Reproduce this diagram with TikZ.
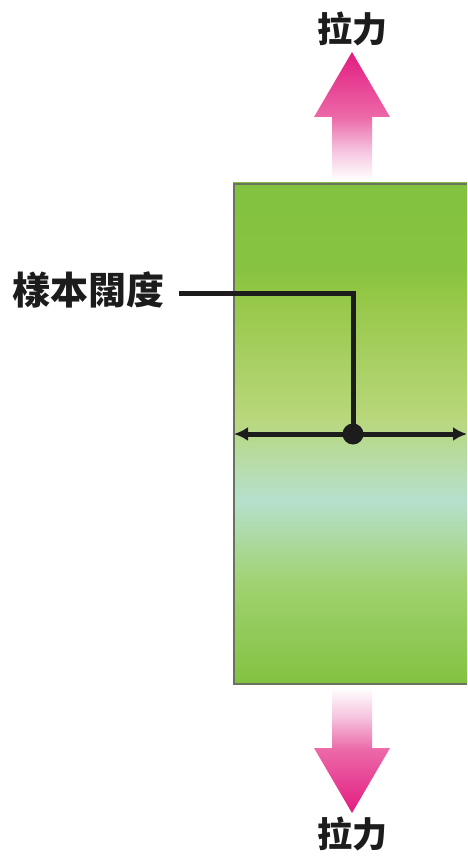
\documentclass[tikz,border=0pt]{standalone}
\usepackage{fontspec}
\newfontfamily\cjk{Noto Sans CJK TC}
\usetikzlibrary{arrows.meta}
\definecolor{gA}{RGB}{130,194,64}
\definecolor{gB}{RGB}{134,195,64}
\definecolor{gC}{RGB}{148,199,70}
\definecolor{gD}{RGB}{184,215,122}
\definecolor{gE}{RGB}{182,224,205}
\definecolor{gF}{RGB}{160,210,112}
\definecolor{pA}{RGB}{226,28,128}
\definecolor{pB}{RGB}{236,105,168}
\definecolor{pC}{RGB}{245,195,222}
\definecolor{txt}{RGB}{28,28,28}
\definecolor{edge}{RGB}{105,115,95}
\pgfdeclareverticalshading{greenbar}{100bp}{color(0bp)=(gA); color(25bp)=(gA); color(35bp)=(gF); color(43.4bp)=(gE); color(51.7bp)=(gD); color(64bp)=(gC); color(66.6bp)=(gB); color(75bp)=(gA); color(100bp)=(gA)}
\pgfdeclareverticalshading{pinkup}{100bp}{color(0bp)=(white); color(25bp)=(white); color(36.7bp)=(pC); color(49.6bp)=(pB); color(75bp)=(pA); color(100bp)=(pA)}
\pgfdeclareverticalshading{pinkdown}{100bp}{color(0bp)=(pA); color(25bp)=(pA); color(50.4bp)=(pB); color(63.3bp)=(pC); color(75bp)=(white); color(100bp)=(white)}
\tikzset{
  lbl/.style={font=\cjk\bfseries\fontsize{35}{40}\selectfont, text=txt, inner sep=0pt},
  leader/.style={line width=5pt, draw=txt},
}
\begin{document}
\begin{tikzpicture}[x=1pt,y=-1pt]
\useasboundingbox (0,0) rectangle (467,858);
% specimen bar
\fill[shading=greenbar] (233,183) rectangle (467,684);
\draw[edge, line width=2.5pt] (467,184) -- (234,184) -- (234,684) -- (467,684);
% top arrow
\shade[shading=pinkup] (352,52) -- (390,117) -- (372,117) -- (372,180) -- (332,180) -- (332,117) -- (314,117) -- cycle;
% bottom arrow
\shade[shading=pinkdown] (352,813) -- (390,748) -- (372,748) -- (372,688) -- (332,688) -- (332,748) -- (314,748) -- cycle;
% labels
\node[lbl] (ftop) at (352,29) {拉力};
\node[lbl] (fbot) at (352,834) {拉力};
\node[lbl, anchor=west, font=\cjk\bfseries\fontsize{38}{42}\selectfont] (width) at (12,290) {樣本闊度};
% width arrow
\coordinate (wl) at (234,434);
\coordinate (wr) at (467,434);
\coordinate (lstart) at (179,293);
\coordinate (bend) at (353,293);
\node[circle, fill=txt, minimum size=21pt, inner sep=0pt] (dot) at (353,434) {};
\draw[leader, {Latex[length=14pt,width=14pt]}-{Latex[length=14pt,width=14pt]}] (wl) -- (wr);
\draw[leader] (lstart) -- (bend) -- (dot.center);
\end{tikzpicture}
\end{document}
